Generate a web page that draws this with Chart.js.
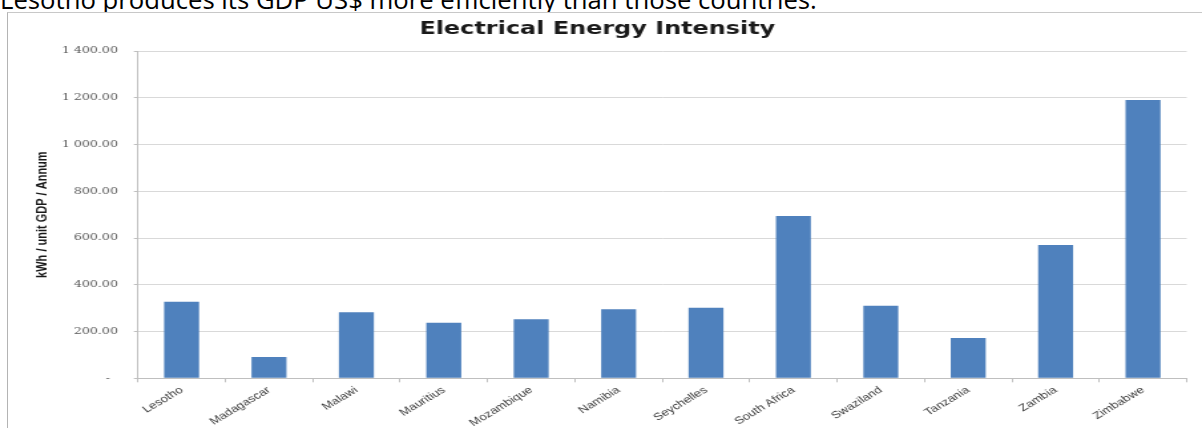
<!DOCTYPE html>
<html>
<head>
<meta charset="utf-8">
<script src="https://cdn.jsdelivr.net/npm/chart.js@4.4.1/dist/chart.umd.min.js"></script>
<style>
  html, body { margin: 0; padding: 0; background: #fff; width: 1202px; height: 428px; overflow: hidden; }
  #lead {
    position: absolute; left: 0; top: -13px; margin: 0;
    font-family: 'Open Sans', 'Liberation Sans', sans-serif; font-size: 25.7px; line-height: 26px;
    color: #000; white-space: nowrap;
  }
  #frame {
    position: absolute; left: 7px; top: 12px; width: 1200px; height: 420px;
    border-left: 1px solid #b4b4b4; border-top: 1px solid #c8c8c8; background: #fff;
  }
  /* the chart is laid out narrow and stretched sideways, like the embedded figure */
  #wrap {
    position: absolute; left: 8px; top: 13px; width: 898px; height: 415px;
    transform: scaleX(1.3296); transform-origin: 0 0;
  }
  #wrap canvas { display: block; }
</style>
</head>
<body>
<p id="lead">Lesotho produces its GDP US$ more efficiently than those countries.</p>
<div id="frame"></div>
<div id="wrap"><canvas id="c"></canvas></div>
<script>
// Electrical energy intensity by SADC country (kWh per unit of GDP per year)
const countries = ['Lesotho', 'Madagascar', 'Malawi', 'Mauritius', 'Mozambique', 'Namibia',
                   'Seychelles', 'South Africa', 'Swaziland', 'Tanzania', 'Zambia', 'Zimbabwe'];
const intensity = [327, 91, 282, 238, 253, 295, 302, 694, 310, 172, 570, 1190];
const yTicks = [0, 200, 400, 600, 800, 1000, 1200, 1400];

const chartTitle = 'Electrical Energy Intensity';
const yAxisTitle = 'kWh / unit GDP / Annum';

// accounting-style labels: "1 400.00", zero shown as a dash
function fmt(v) {
  if (v === 0) return '-  ';
  const s = v.toFixed(2);
  const [i, d] = s.split('.');
  return i.replace(/\B(?=(\d{3})+(?!\d))/g, ' ') + '.' + d;
}

new Chart(document.getElementById('c'), {
  type: 'bar',
  data: {
    labels: countries,
    datasets: [{
      data: intensity,
      backgroundColor: '#4f81bd',
      borderWidth: 0,
      barPercentage: 0.4,
      categoryPercentage: 1.0
    }]
  },
  options: {
    responsive: true,
    maintainAspectRatio: false,
    animation: false,
    layout: { padding: { left: 0, right: 11.5, top: 0, bottom: 0 } },
    plugins: {
      legend: { display: false },
      tooltip: { enabled: false },
      title: {
        display: true,
        text: chartTitle,
        color: '#1a1a1a',
        font: { family: "'DejaVu Sans', Verdana, sans-serif", size: 18, weight: 'bold', lineHeight: 1.2 },
        padding: { top: 6, bottom: 10.4 }
      }
    },
    scales: {
      x: {
        offset: true,
        grid: { display: true, offset: true, drawOnChartArea: false, drawTicks: true, tickLength: 4, color: '#bfbfbf' },
        border: { display: true, color: '#bfbfbf', width: 1 },
        ticks: {
          autoSkip: false, minRotation: 38, maxRotation: 38, padding: 2,
          color: '#3a3a3a',
          font: { family: "'Liberation Sans', Arial, sans-serif", size: 10 }
        },
        afterFit: s => { s.height = 49.7; }
      },
      y: {
        min: 0, max: 1400,
        afterBuildTicks: s => { s.ticks = yTicks.map(v => ({ value: v })); },
        grid: { color: '#d9d9d9', tickLength: 3, drawTicks: true, tickColor: '#bfbfbf' },
        border: { display: true, color: '#bfbfbf', width: 1 },
        ticks: {
          padding: 12,
          color: '#595959',
          font: { family: "'DejaVu Serif', serif", size: 9.5 },
          callback: v => fmt(v)
        },
        title: {
          display: true,
          text: yAxisTitle,
          color: '#1a1a1a',
          font: { family: "'Liberation Sans Narrow', 'Liberation Sans', Arial, sans-serif", size: 11, weight: 'bold', lineHeight: 1.2 },
          padding: { top: 19, bottom: 0 }
        },
        afterFit: s => { s.width = 97.7; }
      }
    }
  }
});
</script>
</body>
</html>
